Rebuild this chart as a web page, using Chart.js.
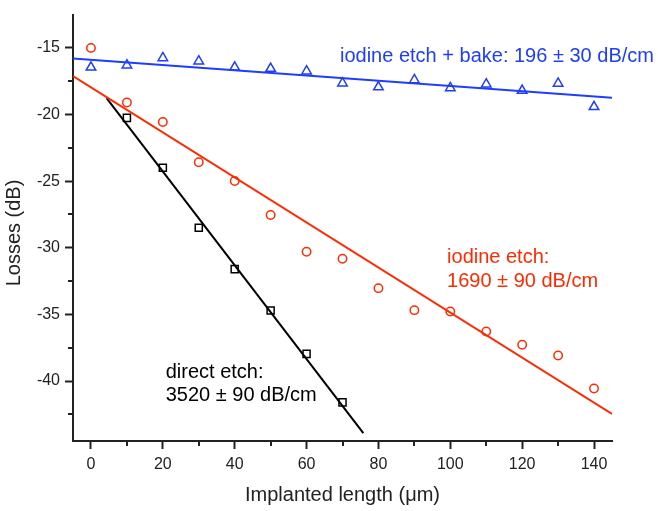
<!DOCTYPE html>
<html>
<head>
<meta charset="utf-8">
<script src="https://cdn.jsdelivr.net/npm/chart.js@4.4.1/dist/chart.umd.min.js"></script>
<style>html,body{margin:0;padding:0;background:#fff}</style>
</head>
<body>
<canvas id="chart" width="658" height="511"></canvas>
<script>
// measured points
const lengths = [0, 10, 20, 30, 40, 50, 60, 70, 80, 90, 100, 110, 120, 130, 140];
const bakeLoss = [-16.46, -16.3, -15.75, -16.0, -16.46, -16.55, -16.75, -17.65, -17.94, -17.4, -18.0, -17.72, -18.2, -17.67, -19.42];
const etchLoss = [-15.0, -19.1, -20.56, -23.58, -24.99, -27.54, -30.3, -30.82, -33.03, -34.68, -34.78, -36.28, -37.28, -38.08, -40.56];
const directLengths = [10, 20, 30, 40, 50, 60, 70];
const directLoss = [-20.25, -23.99, -28.5, -31.6, -34.7, -37.96, -41.6];

// linear fits (end points)
const bakeFitX = [-5, 145];
const bakeFitY = [-15.8, -18.74];
const etchFitX = [-5, 145];
const etchFitY = [-17.11, -42.46];
const directFitX = [4.35, 75.8];
const directFitY = [-18.77, -43.91];

const xTicks = [0, 20, 40, 60, 80, 100, 120, 140];
const xMinorTicks = [10, 30, 50, 70, 90, 110, 130];
const yTicks = [-40, -35, -30, -25, -20, -15];
const yMinorTicks = [-42.5, -37.5, -32.5, -27.5, -22.5, -17.5];

const BLUE = '#1f3dff';
const RED = '#ff2a00';
const AXIS = '#222';
const FAMILY = '"Liberation Sans", Arial, sans-serif';

const toXY = (xs, ys) => xs.map((x, i) => ({ x: x, y: ys[i] }));

const labels = [
    { x: 69.3, y: -15.66, text: 'iodine etch + bake: 196 \u00b1 30 dB/cm', color: BLUE },
    { x: 99.1, y: -30.72, text: 'iodine etch:', color: RED },
    { x: 99.1, y: -32.5, text: '1690 \u00b1 90 dB/cm', color: RED },
    { x: 20.8, y: -39.34, text: 'direct etch:', color: '#000' },
    { x: 20.8, y: -41.1, text: '3520 \u00b1 90 dB/cm', color: '#000' }
];

const extras = {
    id: 'extras',
    afterDraw(chart) {
        const ctx = chart.ctx;
        const xs = chart.scales.x, ys = chart.scales.y;
        const area = chart.chartArea;
        ctx.save();
        // minor ticks
        ctx.strokeStyle = AXIS;
        ctx.lineWidth = 2;
        ctx.beginPath();
        yMinorTicks.forEach(v => {
            const py = Math.round(ys.getPixelForValue(v));
            ctx.moveTo(area.left - 5, py);
            ctx.lineTo(area.left, py);
        });
        xMinorTicks.forEach(v => {
            const px = Math.round(xs.getPixelForValue(v));
            ctx.moveTo(px, area.bottom);
            ctx.lineTo(px, area.bottom + 5);
        });
        ctx.stroke();

        // annotations
        ctx.font = '20px ' + FAMILY;
        ctx.textBaseline = 'middle';
        ctx.textAlign = 'left';
        labels.forEach(l => {
            ctx.fillStyle = l.color;
            ctx.fillText(l.text, xs.getPixelForValue(l.x), ys.getPixelForValue(l.y));
        });

        // y axis title (sits a bit below the axis centre in the original)
        ctx.translate(14.5, 233);
        ctx.rotate(-Math.PI / 2);
        ctx.textAlign = 'center';
        ctx.fillStyle = '#222';
        ctx.fillText('Losses (dB)', 0, 0);
        ctx.restore();
    }
};

const font = { family: FAMILY, size: 16 };

new Chart(document.getElementById('chart'), {
    type: 'scatter',
    data: {
        datasets: [
            {
                data: toXY(bakeFitX, bakeFitY), showLine: true, borderColor: BLUE,
                borderWidth: 2, pointRadius: 0
            },
            {
                data: toXY(etchFitX, etchFitY), showLine: true, borderColor: RED,
                borderWidth: 2, pointRadius: 0
            },
            {
                data: toXY(directFitX, directFitY), showLine: true, borderColor: '#000',
                borderWidth: 2, pointRadius: 0
            },
            {
                data: toXY(lengths, bakeLoss), pointStyle: 'triangle', pointRadius: 5.5,
                borderColor: BLUE, backgroundColor: 'rgba(0,0,0,0)', borderWidth: 1.5
            },
            {
                data: toXY(lengths, etchLoss), pointStyle: 'circle', pointRadius: 4.2,
                borderColor: RED, backgroundColor: 'rgba(0,0,0,0)', borderWidth: 1.5
            },
            {
                data: toXY(directLengths, directLoss), pointStyle: 'rect', pointRadius: 5,
                borderColor: '#000', backgroundColor: 'rgba(0,0,0,0)', borderWidth: 1.5
            }
        ]
    },
    options: {
        responsive: false,
        animation: false,
        layout: { padding: { left: 0, top: 2, right: 46, bottom: 0 } },
        plugins: { legend: { display: false }, tooltip: { enabled: false } },
        scales: {
            x: {
                type: 'linear', min: -5, max: 145,
                afterFit: s => { s.height = 70; },
                afterBuildTicks: s => { s.ticks = xTicks.map(v => ({ value: v })); },
                border: { color: AXIS, width: 2 },
                grid: { drawOnChartArea: false, tickLength: 8, tickColor: AXIS, tickWidth: 2 },
                ticks: { font: font, color: '#222', padding: 6, maxRotation: 0 },
                title: {
                    display: true, text: 'Implanted length (\u03bcm)', color: '#222',
                    font: { family: FAMILY, size: 20 }, padding: { top: 4, bottom: 4 }
                }
            },
            y: {
                type: 'linear', min: -44.5, max: -12.5,
                afterFit: s => { s.width = 73; },
                afterBuildTicks: s => { s.ticks = yTicks.map(v => ({ value: v })); },
                border: { color: AXIS, width: 2 },
                grid: { drawOnChartArea: false, tickLength: 8, tickColor: AXIS, tickWidth: 2 },
                ticks: { font: font, color: '#222', padding: 5 }
            }
        }
    },
    plugins: [extras]
});
</script>
</body>
</html>
